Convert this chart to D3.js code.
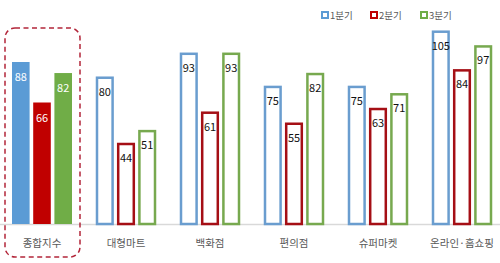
<!DOCTYPE html>
<html>
<head>
<meta charset="utf-8">
<script src="https://cdn.jsdelivr.net/npm/d3@7"></script>
<style>
  body { margin: 0; background: #fff; }
  svg { display: block; font-family: "Noto Sans CJK KR", "Noto Sans", sans-serif; }
</style>
</head>
<body>
<svg id="chart" width="500" height="263"></svg>
<script>
// categories and series
var categories = ['종합지수', '대형마트', '백화점', '편의점', '슈퍼마켓', '온라인·홈쇼핑'];
var seriesNames = ['1분기', '2분기', '3분기'];
var q1 = [88, 80, 93, 75, 75, 105];
var q2 = [66, 44, 61, 55, 63, 84];
var q3 = [82, 51, 93, 82, 71, 97];
var colors = ['#5b9bd5', '#c00000', '#70ad47'];
var strokeColors = ['#6a9dcf', '#a50f15', '#77a94f'];

var svg = d3.select('#chart');
var baseY = 224;

var x = d3.scaleBand().domain(categories).range([0, 504]).paddingInner(0).paddingOuter(0);
var xs = d3.scaleBand().domain(seriesNames).range([12, 72]).paddingInner(0.17);
var y = d3.scaleLinear().domain([0, 88]).range([baseY, 62]);

var rows = [];
categories.forEach(function(c, i){
	[q1, q2, q3].forEach(function(arr, s){
		rows.push({cat: c, idx: i, s: s, name: seriesNames[s], v: arr[i]});
	});
});

// baseline
svg.append('line')
	.attr('x1', 0).attr('x2', 500)
	.attr('y1', baseY + 0.5).attr('y2', baseY + 0.5)
	.attr('stroke', '#d9d9d9').attr('stroke-width', 1.5);

var g = svg.selectAll('g.bar').data(rows).enter().append('g').attr('class', 'bar');

// first group is solid, the rest are outlined
g.append('rect')
	.attr('x', function(d){
		var bx = x(d.cat) + xs(d.name);
		return d.idx == 0 ? bx : bx + 1;
	})
	.attr('y', function(d){ return d.idx == 0 ? y(d.v) : y(d.v) + 1; })
	.attr('width', function(d){ return d.idx == 0 ? xs.bandwidth() : xs.bandwidth() - 2; })
	.attr('height', function(d){ return d.idx == 0 ? baseY - y(d.v) : baseY - y(d.v) - 1; })
	.attr('fill', function(d){ return d.idx == 0 ? colors[d.s] : '#fff'; })
	.attr('stroke', function(d){ return d.idx == 0 ? 'none' : strokeColors[d.s]; })
	.attr('stroke-width', 2.5);

g.append('text')
	.attr('x', function(d){ return x(d.cat) + xs(d.name) + xs.bandwidth() / 2; })
	.attr('y', function(d){ return y(d.v) + 19; })
	.attr('text-anchor', 'middle')
	.attr('font-size', 11)
	.attr('fill', function(d){ return d.idx == 0 ? '#fff' : '#111'; })
	.text(function(d){ return d.v; });

// category labels
svg.selectAll('text.cat').data(categories).enter().append('text')
	.attr('class', 'cat')
	.attr('x', function(d){ return x(d) + x.bandwidth() / 2; })
	.attr('y', 247)
	.attr('text-anchor', 'middle')
	.attr('font-size', 10.5)
	.attr('fill', '#595959')
	.text(function(d){ return d; });

// dashed highlight around the first group
svg.append('rect')
	.attr('x', 5).attr('y', 28)
	.attr('width', 75).attr('height', 229)
	.attr('rx', 10).attr('ry', 10)
	.attr('fill', 'none')
	.attr('stroke', '#b3263a')
	.attr('stroke-width', 1.5)
	.attr('stroke-dasharray', '5,3.5');

// legend
var legendX = [322, 371, 421];
var lg = svg.selectAll('g.legend').data(seriesNames).enter().append('g').attr('class', 'legend')
	.attr('transform', function(d, i){ return 'translate(' + legendX[i] + ',15)'; });
lg.append('rect')
	.attr('x', 0).attr('y', -3).attr('width', 6).attr('height', 6)
	.attr('fill', '#fff')
	.attr('stroke', function(d, i){ return colors[i]; })
	.attr('stroke-width', 2);
lg.append('text')
	.attr('x', 8).attr('y', 3.5)
	.attr('font-size', 9.5)
	.attr('fill', '#595959')
	.text(function(d){ return d; });
</script>
</body>
</html>
